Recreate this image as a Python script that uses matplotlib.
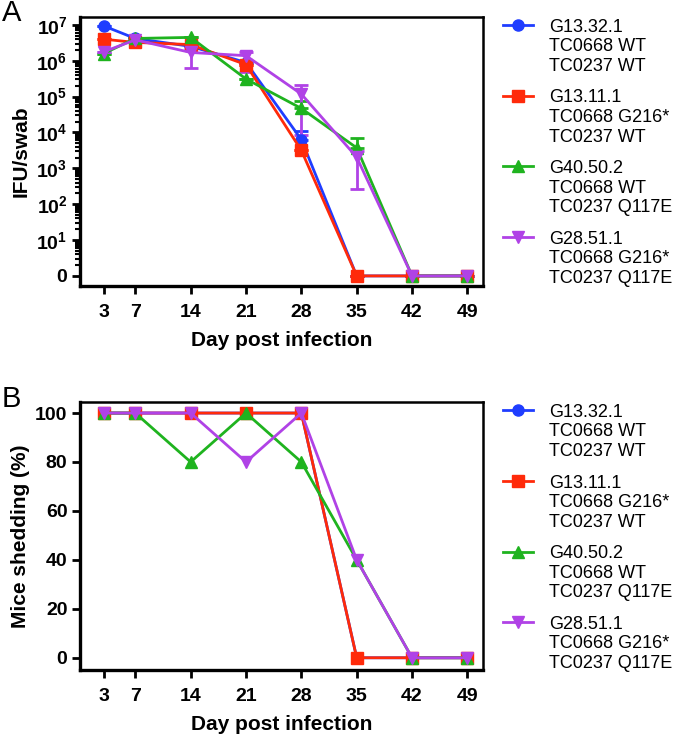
import numpy as np
import matplotlib
matplotlib.use('Agg')
import matplotlib.pyplot as plt
from matplotlib.ticker import FixedLocator
from matplotlib.lines import Line2D

plt.rcParams['font.family'] = ['Liberation Sans', 'DejaVu Sans']
plt.rcParams['mathtext.fontset'] = 'custom'
plt.rcParams['mathtext.rm'] = 'Liberation Sans:bold'
plt.rcParams['mathtext.bf'] = 'Liberation Sans:bold'

days = [3, 7, 14, 21, 28, 35, 42, 49]
names = ['G13.32.1\nTC0668 WT\nTC0237 WT',
         'G13.11.1\nTC0668 G216*\nTC0237 WT',
         'G40.50.2\nTC0668 WT\nTC0237 Q117E',
         'G28.51.1\nTC0668 G216*\nTC0237 Q117E']
colors = ['#1f3dff', '#ff2a0a', '#1fb31f', '#b042e6']
markers = ['o', 's', '^', 'v']

# panel A: log10(IFU/swab), 0 plotted at the "0" tick
ifu = [
    [6.97, 6.62, 6.40, 5.95, 3.80, 0, 0, 0],
    [6.60, 6.51, 6.45, 5.89, 3.50, 0, 0, 0],
    [6.20, 6.62, 6.65, 5.49, 4.67, 3.57, 0, 0],
    [6.25, 6.58, 6.23, 6.14, 5.07, 3.31, 0, 0],
]
ifu_hi = [
    [6.97, 6.62, 6.40, 5.95, 4.03, 0, 0, 0],
    [6.60, 6.51, 6.45, 5.89, 3.50, 0, 0, 0],
    [6.20, 6.62, 6.65, 5.49, 4.89, 3.85, 0, 0],
    [6.25, 6.58, 6.35, 6.25, 5.31, 3.48, 0, 0],
]
ifu_lo = [
    [6.97, 6.62, 6.40, 5.95, 3.80, 0, 0, 0],
    [6.60, 6.51, 6.45, 5.89, 3.50, 0, 0, 0],
    [6.20, 6.62, 6.65, 5.49, 4.67, 3.57, 0, 0],
    [6.25, 6.58, 5.80, 5.68, 3.94, 2.41, 0, 0],
]

# panel B: percent of mice shedding
shed = [
    [100, 100, 100, 100, 100, 0, 0, 0],
    [100, 100, 100, 100, 100, 0, 0, 0],
    [100, 100, 80, 100, 80, 40, 0, 0],
    [100, 100, 100, 80, 100, 40, 0, 0],
]

fig = plt.figure(figsize=(6.8, 7.37), dpi=100)
axA = fig.add_axes([0.1176, 0.612, 0.593, 0.365])
axB = fig.add_axes([0.1176, 0.0909, 0.593, 0.3636])


def style(ax):
    for s in ['left', 'bottom']:
        ax.spines[s].set_linewidth(2.4)
    for s in ['top', 'right']:
        ax.spines[s].set_linewidth(1.8)
    ax.set_xlim(0, 51)
    ax.set_xticks(days)
    ax.tick_params(axis='both', direction='out', width=2, length=6,
                   labelsize=14, pad=3)
    ax.tick_params(axis='x', pad=7)
    for lb in ax.get_xticklabels() + ax.get_yticklabels():
        lb.set_fontweight('bold')
    ax.set_xlabel('Day post infection', fontsize=15, fontweight='bold', labelpad=7)


for i in range(4):
    y = np.array(ifu[i])
    err = [y - np.array(ifu_lo[i]), np.array(ifu_hi[i]) - y]
    axA.errorbar(days, y, yerr=err, color=colors[i], marker=markers[i], ms=8,
                 lw=2, capsize=5, capthick=2, elinewidth=2)
    axB.plot(days, shed[i], color=colors[i], marker=markers[i], ms=8, lw=2)

axA.set_ylim(-0.28, 7.22)
axA.set_yticks(range(8))
axA.set_yticklabels(['0'] + [r'$\mathbf{10^{%d}}$' % k for k in range(1, 8)])
minor = [k + np.log10(m) for k in range(7) for m in range(2, 10)]
axA.yaxis.set_minor_locator(FixedLocator(minor))
axA.tick_params(axis='y', which='minor', direction='out', width=1.5, length=3.5)
style(axA)
axA.set_ylabel('IFU/swab', fontsize=15, fontweight='bold')

axB.set_ylim(-5, 104.5)
axB.set_yticks([0, 20, 40, 60, 80, 100])
style(axB)
axB.set_ylabel('Mice shedding (%)', fontsize=15, fontweight='bold')

handles = [Line2D([], [], color=colors[i], marker=markers[i], ms=8, lw=2)
           for i in range(4)]
for ax in [axA, axB]:
    leg = ax.legend(handles, names, loc='upper left', bbox_to_anchor=(1.03, 1.02),
                    borderaxespad=0, frameon=False, fontsize=13, handlelength=1.7,
                    labelspacing=0.8, handletextpad=0.9)
    # put the marker next to the first line of each label
    for col in leg._legend_handle_box.get_children():
        for item in col.get_children():
            item.align = 'top'

fig.text(0.003, 0.972, 'A', fontsize=21)
fig.text(0.003, 0.448, 'B', fontsize=21)

fig.savefig('out.png', dpi=100)
